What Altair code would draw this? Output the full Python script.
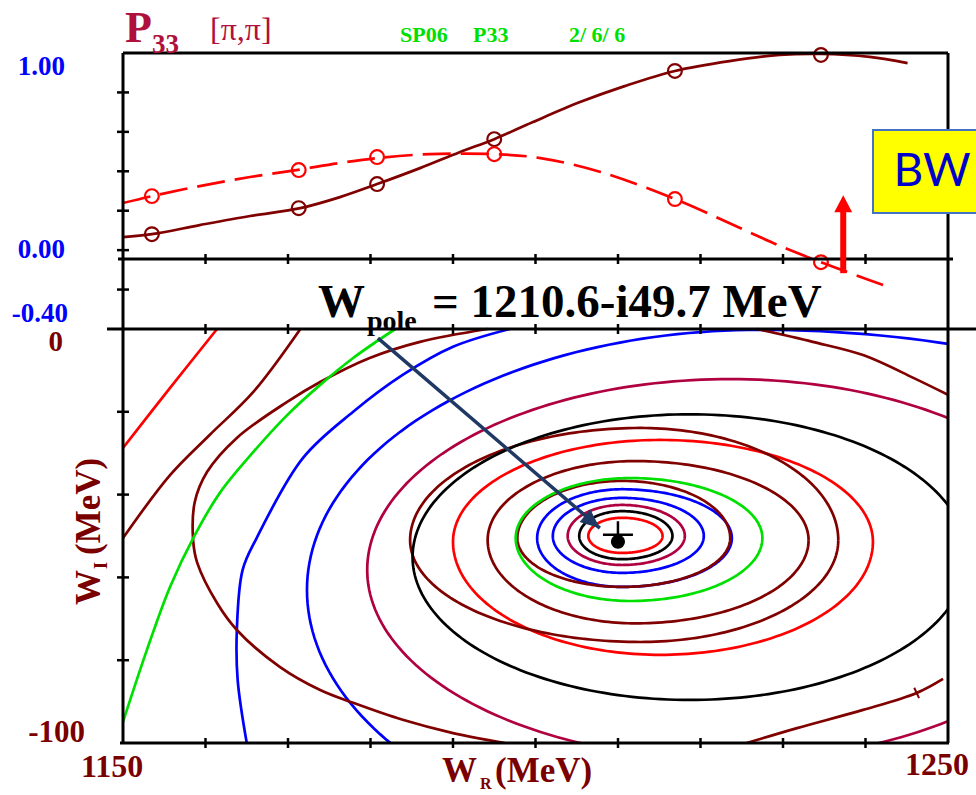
import altair as alt
import numpy as np
import pandas as pd

# ---------------- top panel: P33 [pi,pi] amplitude ----------------
W_data = [1153.5, 1171.3, 1180.8, 1195.0, 1216.9, 1234.6]
im_data = [0.081, 0.213, 0.335, 0.563, 0.909, 0.990]
re_data = [0.274, 0.406, 0.472, 0.487, 0.259, -0.061]

W_im_fit = [1150.0, 1153.5, 1159.3, 1165.4, 1171.5, 1176.3, 1180.8, 1186.0, 1190.8, 1195.0,
            1199.7, 1205.4, 1210.8, 1216.9, 1223.5, 1229.6, 1234.6, 1240.5, 1245.1]
im_fit = [0.066, 0.081, 0.127, 0.173, 0.213, 0.269, 0.335, 0.416, 0.497, 0.563,
          0.650, 0.751, 0.832, 0.909, 0.959, 0.990, 0.995, 0.980, 0.949]
W_re_fit = [1150.0, 1153.5, 1159.3, 1165.4, 1171.0, 1176.3, 1180.8, 1187.2, 1195.0,
            1200.6, 1207.9, 1216.9, 1224.8, 1230.0, 1234.6, 1238.2, 1243.2]
re_fit = [0.239, 0.274, 0.325, 0.371, 0.406, 0.442, 0.467, 0.487, 0.487,
          0.467, 0.396, 0.259, 0.112, 0.015, -0.061, -0.117, -0.193]

top_tick_vals = [0.8, 0.6, 0.4, 0.2, 0.0, -0.2]
bot_tick_vals = [-20, -40, -60, -80]
x_tick_vals = [1160, 1170, 1180, 1190, 1200, 1210, 1220, 1230, 1240]

# BW arrow (W position, amplitude from / to)
bw_arrow_W = [1237.3]
bw_arrow_from = [-0.117]
bw_arrow_to = [0.20]
bw_arrow_tip = [0.279]

# ---------------- bottom panel: contours of |T| in complex W plane ----------------
pole_W = 1210.6
pole_WI = -49.7

# closed contours: centre and four semi-axes (left, right, top, bottom), MeV
ell_cx = [1210.5, 1210.5, 1210.5, 1210.5, 1210.5, 1210.5, 1211.5, 1212.1, 1215.1, 1212.7, 1218.7, 1223.6, 1227.2]
ell_cy = [-50.0, -50.0, -50.0, -50.0, -50.5, -50.5, -50.5, -51.0, -51.4, -51.0, -55.1, -58.2, -63.0]
ell_rxl = [4.1, 5.2, 6.6, 8.4, 10.3, 12.7, 13.9, 17.9, 25.1, 27.9, 33.6, 44.0, 54.9]
ell_rxr = [4.9, 6.1, 7.6, 9.9, 13.3, 13.1, 16.0, 21.0, 25.8, 24.0, 33.6, 43.6, 70.3]
ell_ryt = [4.4, 6.0, 7.5, 9.2, 11.8, 13.8, 14.5, 19.1, 24.6, 27.1, 34.5, 46.1, 62.8]
ell_ryb = [4.1, 5.6, 7.0, 8.9, 11.8, 11.8, 15.2, 20.1, 27.3, 24.6, 34.5, 45.9, 64.0]
ell_col = ["#ff0000", "#000000", "#b00040", "#0000ff", "#0000ff", "#800000", "#00e000",
           "#800000", "#ff0000", "#800000", "#000000", "#b00040", "#0000ff"]

# open contours (W_R, W_I)
blue_W = [1196.9, 1190.0, 1183.9, 1177.9, 1171.8, 1166.2, 1164.5, 1163.8, 1163.9, 1165.0]
blue_I = [0.0, -4.3, -11.1, -20.0, -31.2, -50.5, -58.2, -72.7, -84.8, -100.0]
brownA_W = [1194.2, 1186.0, 1179.9, 1173.9, 1169.9, 1163.8, 1160.2, 1158.7, 1158.5, 1159.0,
            1161.4, 1163.8, 1169.0, 1173.9, 1177.9, 1183.9, 1190.0, 1196.3]
brownA_I = [0.0, -3.1, -7.0, -12.8, -17.6, -26.3, -34.5, -41.8, -51.0, -56.5,
            -66.2, -72.7, -81.6, -87.2, -90.3, -94.4, -97.6, -100.0]
brownB_W = [1226.8, 1233.6, 1239.7, 1245.8, 1250.0]
brownB_I = [0.0, -3.1, -6.3, -11.8, -15.9]
brownC_W = [1225.6, 1231.7, 1239.7, 1246.2, 1249.4]
brownC_I = [-100.0, -96.4, -92.0, -87.9, -84.5]
redD_W = [1161.4, 1155.8, 1150.0]
redD_I = [0.0, -14.0, -28.7]
brownD_W = [1171.5, 1165.8, 1160.5, 1155.7, 1150.0]
brownD_I = [0.0, -15.2, -25.6, -35.3, -50.5]
greenD_W = [1183.0, 1177.9, 1173.9, 1169.9, 1165.8, 1161.8, 1158.7, 1155.7, 1152.9, 1150.0]
greenD_I = [0.0, -7.0, -13.5, -20.8, -29.7, -39.4, -49.8, -62.3, -77.5, -94.9]
open_curves = [(blue_W, blue_I, "#0000ff"), (brownA_W, brownA_I, "#800000"),
               (brownB_W, brownB_I, "#800000"), (brownC_W, brownC_I, "#800000"),
               (redD_W, redD_I, "#ff0000"), (brownD_W, brownD_I, "#800000"),
               (greenD_W, greenD_I, "#00e000")]
cross_W = [1246.2]
cross_I = [-87.9]

# arrow from the pole label to the pole
navy_from = (1180.9, -2.2)
navy_to = (1207.8, -48.1)

# ---------------- build tables ----------------
rows = []
cid = 0
for cx, cy, a, b, c, d, col in zip(ell_cx, ell_cy, ell_rxl, ell_rxr, ell_ryt, ell_ryb, ell_col):
    t = np.linspace(0, 2 * np.pi, 241)
    co, si = np.cos(t), np.sin(t)
    xs = cx + np.where(co >= 0, b, a) * co
    ys = cy + np.where(si >= 0, c, d) * si
    for k, (xv, yv) in enumerate(zip(xs, ys)):
        rows.append({"W": float(xv), "WI": float(yv), "cid": cid, "ord": k, "col": col})
    cid += 1
closed_df = pd.DataFrame(rows)
rows = []
for ws, iis, col in open_curves:
    for k, (xv, yv) in enumerate(zip(ws, iis)):
        rows.append({"W": xv, "WI": yv, "cid": cid, "ord": k, "col": col})
    cid += 1
open_df = pd.DataFrame(rows)

xs_ = alt.Scale(domain=[1150, 1250], nice=False, zero=False)
ytop = alt.Scale(domain=[-0.4, 1.0], range=[276, 0], nice=False, zero=False)
ybot = alt.Scale(domain=[-100, 0], range=[690, 276], nice=False, zero=False)

def X(f):
    return alt.X(f, type="quantitative", scale=xs_, axis=None)

def YT(f):
    return alt.Y(f, type="quantitative", scale=ytop, axis=None)

def YB(f):
    return alt.Y(f, type="quantitative", scale=ybot, axis=None)

one = pd.DataFrame({"a": [0]})
layers = []

# contours
layers.append(alt.Chart(closed_df).mark_line(strokeWidth=2.7, clip=True).encode(
    x=X("W"), y=YB("WI"), detail="cid:N", order="ord:Q", color=alt.Color("col:N", scale=None)))
layers.append(alt.Chart(open_df).mark_line(strokeWidth=2.7, clip=True, interpolate="catmull-rom").encode(
    x=X("W"), y=YB("WI"), detail="cid:N", order="ord:Q", color=alt.Color("col:N", scale=None)))
layers.append(alt.Chart(pd.DataFrame({"W": cross_W, "WI": cross_I})).mark_point(
    shape="M-1,0L1,0M0,-1L0,1", filled=False, size=130, strokeWidth=2, color="#800000",
    opacity=1, angle=335).encode(x=X("W"), y=YB("WI")))

# top panel curves
fit_im = pd.DataFrame({"W": W_im_fit, "v": im_fit, "o": range(len(im_fit))})
fit_re = pd.DataFrame({"W": W_re_fit, "v": re_fit, "o": range(len(re_fit))})
pts = pd.DataFrame({"W": W_data, "im": im_data, "re": re_data})
layers.append(alt.Chart(fit_im).mark_line(color="#800000", strokeWidth=2.7, interpolate="catmull-rom").encode(
    x=X("W"), y=YT("v"), order="o:Q"))
layers.append(alt.Chart(fit_re).mark_line(color="#ff0000", strokeWidth=2.7, strokeDash=[28, 10],
                                          interpolate="catmull-rom").encode(x=X("W"), y=YT("v"), order="o:Q"))
layers.append(alt.Chart(pts).mark_point(shape="circle", filled=False, size=190, strokeWidth=2.2,
                                        color="#800000", opacity=1).encode(x=X("W"), y=YT("im")))
layers.append(alt.Chart(pts).mark_point(shape="circle", filled=False, size=190, strokeWidth=2.2,
                                        color="#ff0000", opacity=1).encode(x=X("W"), y=YT("re")))

# frame
frame_col = "#000000"
def hline(y, x1, x2, w=3):
    return alt.Chart(one).mark_rule(color=frame_col, strokeWidth=w).encode(
        x=alt.value(x1), x2=alt.value(x2), y=alt.value(y))
def vline(x, y1, y2, w=3):
    return alt.Chart(one).mark_rule(color=frame_col, strokeWidth=w).encode(
        x=alt.value(x), y=alt.value(y1), y2=alt.value(y2))
layers += [vline(0, 0, 690), vline(825, 0, 690), hline(0, 0, 825),
           hline(276, -16, 853), hline(206, -5, 830), hline(690, -3, 826)]

xt = pd.DataFrame({"W": x_tick_vals})
for yy in (206, 276, 690):
    layers.append(alt.Chart(xt).mark_rule(color=frame_col, strokeWidth=2.5).encode(
        x=X("W"), y=alt.value(yy - 5), y2=alt.value(yy + 5)))
layers.append(alt.Chart(pd.DataFrame({"v": top_tick_vals})).mark_rule(color=frame_col, strokeWidth=2.5).encode(
    y=YT("v"), x=alt.value(-6), x2=alt.value(6)))
layers.append(alt.Chart(pd.DataFrame({"v": bot_tick_vals})).mark_rule(color=frame_col, strokeWidth=2.5).encode(
    y=YB("v"), x=alt.value(-6), x2=alt.value(6)))

# navy arrow to pole
navy = pd.DataFrame({"W": [navy_from[0]], "WI": [navy_from[1]], "W2": [navy_to[0]], "WI2": [navy_to[1]]})
layers.append(alt.Chart(navy).mark_rule(color="#1f3864", strokeWidth=3.5).encode(
    x=X("W"), y=YB("WI"), x2="W2", y2="WI2"))
layers.append(alt.Chart(navy).mark_point(shape="M0,0L-2,-0.85L-2,0.85Z", filled=True, size=380,
                                         color="#1f3864", opacity=1, angle=40).encode(x=X("W2"), y=YB("WI2")))

# pole marker
pole = pd.DataFrame({"W": [pole_W], "WI": [pole_WI]})
layers.append(alt.Chart(pole).mark_point(shape="circle", filled=True, size=200, color="black", opacity=1).encode(
    x=X("W"), y=YB("WI"), xOffset=alt.value(-5), yOffset=alt.value(7)))
layers.append(alt.Chart(pole).mark_point(shape="M-1,0L1,0M0,-0.9L0,0.35", filled=False, size=900,
                                         strokeWidth=2.5, color="black", opacity=1).encode(
    x=X("W"), y=YB("WI"), xOffset=alt.value(-5)))

# BW arrow
bw = pd.DataFrame({"W": bw_arrow_W, "a": bw_arrow_from, "b": bw_arrow_to, "t": bw_arrow_tip})
layers.append(alt.Chart(bw).mark_rule(color="#ff0000", strokeWidth=6).encode(x=X("W"), y=YT("a"), y2="b"))
layers.append(alt.Chart(bw).mark_point(shape="M0,0L-1.05,2L1.05,2Z", filled=True, size=290, color="#ff0000",
                                       opacity=1).encode(x=X("W"), y=YT("t")))

# BW box
layers.append(alt.Chart(one).mark_rect(fill="#ffff00", stroke="#4472c4", strokeWidth=2).encode(
    x=alt.value(750), x2=alt.value(870), y=alt.value(77), y2=alt.value(160)))

def label(text, x, y, size, color, font="Liberation Serif", weight="bold", align="left",
          baseline="alphabetic", angle=0):
    return alt.Chart(one).mark_text(text=text, font=font, fontSize=size, fontWeight=weight, color=color,
                                    align=align, baseline=baseline, angle=angle).encode(
        x=alt.value(x), y=alt.value(y))

crim = "#b0103c"
dred = "#7a0000"
blue = "#0000ff"
green = "#00e000"
layers += [
    label("BW", 809, 119, 46, "#0000cc", font="Lato", weight="normal", align="center", baseline="middle"),
    label("P", 2, -11, 44, crim),
    label("33", 29, 0, 27, crim),
    label("[π,π]", 87, -13, 32, crim, weight="normal"),
    label("SP06", 277, -11, 22, green),
    label("P33", 350, -11, 22, green),
    label("2/ 6/ 6", 446, -11, 22, green),
    label("1.00", -58, 22, 27, blue, align="right"),
    label("0.00", -58, 205, 27, blue, align="right"),
    label("-0.40", -55, 269, 27, blue, align="right"),
    label("0", -60, 298, 29, dred, align="right"),
    label("-100", -38, 689, 31, dred, align="right"),
    label("1150", -11, 724, 32, dred, align="center"),
    label("1250", 814, 722, 32, dred, align="center"),
    label("W", 319, 729, 35, dred),
    label("R", 357, 736, 16, dred),
    label("(MeV)", 372, 729, 35, dred),
    label("W", -23, 552, 35, dred, angle=270),
    label("I", -16, 516, 18, dred, angle=270),
    label("(MeV)", -23, 502, 35, dred, angle=270),
    label("W", 195, 264, 47, "black"),
    label("pole", 244, 277, 28, "black"),
    label(f"= {pole_W}-i{abs(pole_WI)} MeV", 309, 264, 47, "black"),
]

chart = alt.layer(*layers).resolve_scale(y="independent").properties(
    width=825, height=690,
    padding={"left": 123, "top": 53, "right": 28, "bottom": 52},
    autosize=alt.AutoSizeParams(type="none"),
).configure_view(stroke=None)

chart.save("out.html", embed_options={"renderer": "svg", "actions": False})
